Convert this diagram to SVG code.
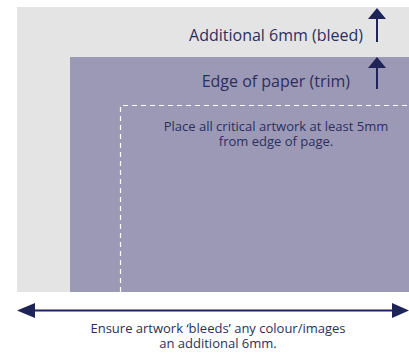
<svg xmlns="http://www.w3.org/2000/svg" width="409" height="353" viewBox="0 0 409 353">
<style>
.t{font-family:"Open Sans","Liberation Sans",sans-serif;fill:#2b2f5e}
.s{font-size:13px}
.ln{stroke:#1e2358;stroke-width:2;fill:none}
.hd{fill:#1e2358}
</style>
<rect width="409" height="353" fill="#ffffff"/>
<g id="bleed">
<rect x="17" y="7" width="392" height="285" fill="#e4e4e4"/>
<text class="t" x="363" y="41" font-size="16" text-anchor="end">Additional 6mm (bleed)</text>
</g>
<g id="trim">
<rect x="70" y="57" width="339" height="235" fill="#9c99b7"/>
<text class="t" x="350" y="87" font-size="16" text-anchor="end">Edge of paper (trim)</text>
</g>
<g id="safe">
<path d="M120.5 292 V105.5 H409" stroke="#ffffff" stroke-width="1.2" stroke-dasharray="5 4" fill="none"/>
<text class="t s" x="276" y="131" text-anchor="middle">Place all critical artwork at least 5mm</text>
<text class="t s" x="276" y="146" text-anchor="middle">from edge of page.</text>
</g>
<g id="connectors">
<line class="ln" x1="377" y1="42" x2="377" y2="18"/>
<polygon class="hd" points="377,8 368,19 386,19"/>
<line class="ln" x1="377" y1="89" x2="377" y2="66"/>
<polygon class="hd" points="377,57 368,68 386,68"/>
<line class="ln" x1="32" y1="310.5" x2="394" y2="310.5"/>
<polygon class="hd" points="17,310.5 35,303 35,318"/>
<polygon class="hd" points="409,310.5 392,303 392,318"/>
</g>
<g id="note">
<text class="t s" x="218" y="333" text-anchor="middle">Ensure artwork ‘bleeds’ any colour/images</text>
<text class="t s" x="218" y="348" text-anchor="middle">an additional 6mm.</text>
</g>
</svg>
